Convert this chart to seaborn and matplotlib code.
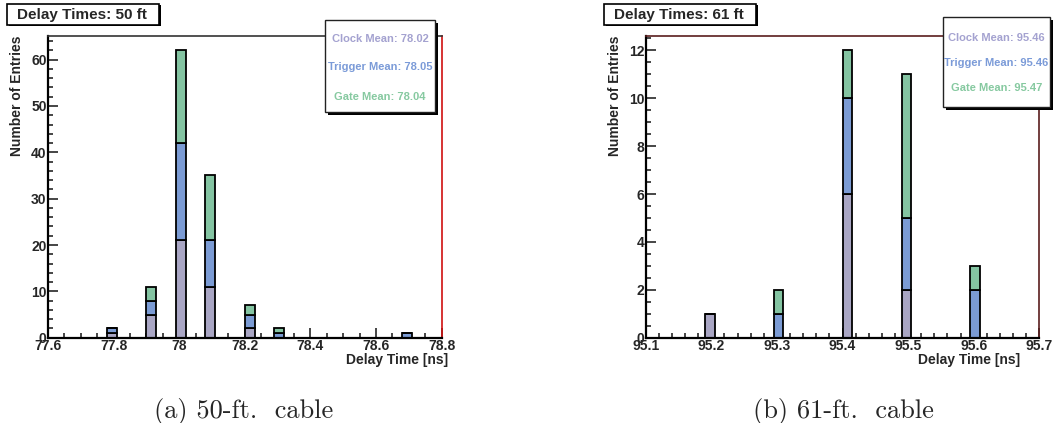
import numpy as np
import pandas as pd
import matplotlib
matplotlib.use("Agg")
import matplotlib.pyplot as plt
from matplotlib.patches import Rectangle
from matplotlib.ticker import MultipleLocator
import seaborn as sns

# ---- data ----
series = ["Clock", "Trigger", "Gate"]

# 50 ft cable: bin centres (bins of 0.03 ns) and counts per series
time_50 = [77.795, 77.915, 78.005, 78.095, 78.215, 78.305, 78.695]
clock_50 = [1, 5, 21, 11, 2, 0, 0]
trigger_50 = [1, 3, 21, 10, 3, 1, 1]
gate_50 = [0, 3, 20, 14, 2, 1, 0]
means_50 = ["78.02", "78.05", "78.04"]

# 61 ft cable: bin centres (bins of 0.015 ns)
time_61 = [95.1975, 95.3025, 95.4075, 95.4975, 95.6025]
clock_61 = [1, 0, 6, 2, 0]
trigger_61 = [0, 1, 4, 3, 2]
gate_61 = [0, 1, 2, 6, 1]
means_61 = ["95.46", "95.46", "95.47"]

colors = {"Clock": "#a9a6c4", "Trigger": "#7b9bd4", "Gate": "#84c4a2"}
text_colors = {"Clock": "#a4a2d0", "Trigger": "#7b9bd8", "Gate": "#86c9a0"}

sns.set_style("ticks")
plt.rcParams["font.family"] = ["Liberation Sans", "DejaVu Sans"]
plt.rcParams["font.weight"] = "bold"

W, H = 1060, 423
fig = plt.figure(figsize=(W / 100, H / 100), dpi=100)


def px_box(x0, y0, x1, y1):
    return [x0 / W, 1 - y1 / H, (x1 - x0) / W, (y1 - y0) / H]


def make_df(times, clock, trig, gate):
    rows = []
    for name, vals in zip(series, [clock, trig, gate]):
        for t, v in zip(times, vals):
            rows.append({"time": t, "series": name, "count": v})
    return pd.DataFrame(rows)


def draw_panel(rect, df, binw, xlim, ylim, xmaj, xmin, ymaj, ymin,
               frame_top, frame_right, title, title_box, stats_box, stats_y, means,
               xlabel_x, ylabel_x, caption, caption_x):
    ax = fig.add_axes(px_box(*rect))
    sns.histplot(data=df, x="time", weights="count", hue="series",
                 hue_order=series[::-1], multiple="stack", binwidth=binw, binrange=xlim,
                 palette=colors, alpha=1, edgecolor="black", linewidth=1.3,
                 legend=False, ax=ax)
    ax.set_xlim(*xlim)
    ax.set_ylim(*ylim)
    ax.xaxis.set_major_locator(MultipleLocator(xmaj))
    ax.xaxis.set_minor_locator(MultipleLocator(xmin))
    ax.yaxis.set_major_locator(MultipleLocator(ymaj))
    ax.yaxis.set_minor_locator(MultipleLocator(ymin))
    ax.xaxis.set_major_formatter(plt.FuncFormatter(lambda v, p: f"{v:g}"))
    ax.tick_params(which="major", direction="in", length=7, width=1.2,
                   labelsize=10, pad=1)
    ax.tick_params(which="minor", direction="in", length=3.5, width=1.2)
    for lab in ax.get_xticklabels() + ax.get_yticklabels():
        lab.set_fontweight("bold")
    for s in ["left", "bottom"]:
        ax.spines[s].set_linewidth(1.6)
        ax.spines[s].set_color("black")
    ax.spines["top"].set_visible(True)
    ax.spines["right"].set_visible(True)
    ax.spines["top"].set_color(frame_top)
    ax.spines["right"].set_color(frame_right)
    ax.spines["top"].set_linewidth(1.2)
    ax.spines["right"].set_linewidth(1.2)

    ax.set_xlabel("Delay Time [ns]", fontsize=10, fontweight="bold")
    ax.xaxis.set_label_coords(xlabel_x, -0.075)
    ax.xaxis.label.set_ha("right")
    ax.xaxis.label.set_va("center")
    ax.set_ylabel("Number of Entries", fontsize=10, fontweight="bold", loc="top")
    ax.yaxis.set_label_coords(ylabel_x, 1.0)
    ax.yaxis.label.set_va("center")

    # title box
    x0, y0, x1, y1 = title_box
    fig.patches.append(Rectangle((x0 / W + 1.5 / W, 1 - y1 / H - 1.5 / H), (x1 - x0) / W, (y1 - y0) / H,
                                 transform=fig.transFigure, fc="black", ec="none", zorder=5))
    fig.patches.append(Rectangle((x0 / W, 1 - y1 / H), (x1 - x0) / W, (y1 - y0) / H,
                                 transform=fig.transFigure, fc="white", ec="black", lw=1.2, zorder=6))
    fig.text((x0 + 10) / W, 1 - (y0 + y1) / 2 / H, title, fontsize=11, fontweight="bold",
             ha="left", va="center", zorder=7)

    # stats box
    x0, y0, x1, y1 = stats_box
    fig.patches.append(Rectangle((x0 / W + 3 / W, 1 - y1 / H - 3 / H), (x1 - x0) / W, (y1 - y0) / H,
                                 transform=fig.transFigure, fc="black", ec="none", zorder=5))
    fig.patches.append(Rectangle((x0 / W, 1 - y1 / H), (x1 - x0) / W, (y1 - y0) / H,
                                 transform=fig.transFigure, fc="white", ec="#222222", lw=1.0, zorder=6))
    xc = (x0 + x1) / 2
    for name, m, yy in zip(series, means, stats_y):
        fig.text(xc / W, 1 - yy / H, f"{name} Mean: {m}", color=text_colors[name],
                 fontsize=8, fontweight="bold", ha="center", va="center", zorder=7)

    fig.text(caption_x / W, 1 - 411 / H, caption, family="cmr10", fontsize=19,
             fontweight="normal", ha="center", va="center")
    return ax


draw_panel((48, 36, 441.7, 337.7), make_df(time_50, clock_50, trigger_50, gate_50),
           0.03, (77.6, 78.8), (0, 65.1), 0.2, 0.05, 10, 2,
           "#333333", "#d01010", "Delay Times: 50 ft", (7, 4, 159, 25),
           (325, 20, 435, 112), (39.3, 67.3, 96.7), means_50, 1.016, -0.079,
           "(a) 50-ft.  cable", 244)

draw_panel((645.7, 36, 1039.3, 337.7), make_df(time_61, clock_61, trigger_61, gate_61),
           0.015, (95.1, 95.7), (0, 12.6), 0.1, 0.02, 2, 0.5,
           "#5a1e1e", "#5a1e1e", "Delay Times: 61 ft", (604, 4, 756, 25),
           (943, 17, 1050, 107), (38.3, 63.3, 87.7), means_61, 0.951, -0.079,
           "(b) 61-ft.  cable", 843)

fig.savefig("out.png", dpi=100)
